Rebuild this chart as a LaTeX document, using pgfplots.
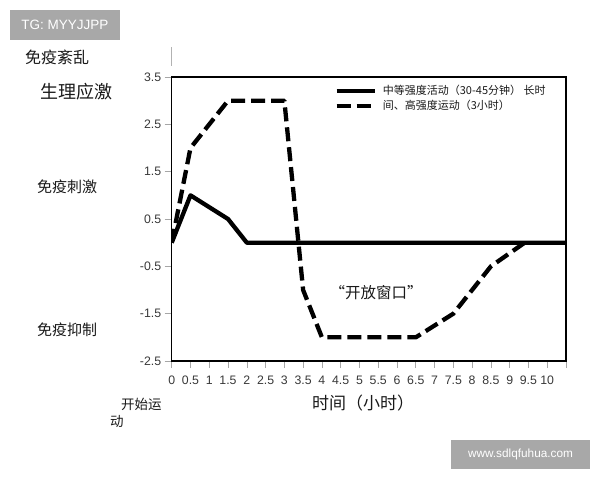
\documentclass[border=0pt]{standalone}
\usepackage{fontspec}
\usepackage{pgfplots}
\pgfplotsset{compat=1.18}
\setmainfont{Noto Sans CJK SC}
\newfontfamily\arial{Liberation Sans}
\definecolor{wmgray}{RGB}{168,168,168}
\definecolor{txt}{RGB}{25,25,25}
\newcommand\fs[1]{\fontsize{#1}{#1}\selectfont}

\begin{document}
\begin{tikzpicture}
\path[use as bounding box] (0,0) rectangle (600pt,-480pt);
\begin{axis}[
    at={(171.7pt,-361pt)}, anchor=south west,
    width=394.3pt, height=284pt, scale only axis,
    xmin=0, xmax=10.5, ymin=-2.5, ymax=3.5,
    axis line style={line width=1.4pt, black},
    xtick={0,0.5,1,1.5,2,2.5,3,3.5,4,4.5,5,5.5,6,6.5,7,7.5,8,8.5,9,9.5,10,10.5},
    xticklabels={0,0.5,1,1.5,2,2.5,3,3.5,4,4.5,5,5.5,6,6.5,7,7.5,8,8.5,9,9.5,10,{}},
    ytick={-2.5,-1.5,-0.5,0.5,1.5,2.5,3.5},
    yticklabels={-2.5,-1.5,-0.5,0.5,1.5,2.5,3.5},
    tick align=outside, xtick pos=bottom, ytick pos=left,
    major tick length=7pt,
    tick style={gray!70, line width=0.6pt},
    ticklabel style={font=\arial\fs{12.3}, text=black!78},
    xticklabel style={yshift=-4pt},
    legend cell align=left,
    legend style={at={(0.405,0.985)}, anchor=north west, draw=none, fill=none,
        font=\fs{11}, text=txt, row sep=0pt,
        /tikz/every odd column/.append style={column sep=4pt}},
    legend image code/.code={\draw[#1] (0pt,0pt) -- (38pt,0pt);},
]
\addplot[line width=4.3pt, black, line join=round] coordinates {
    (0,0) (0.5,1) (1.5,0.5) (2,0) (10.5,0)
};
\addlegendentry{中等强度活动（30-45分钟） 长时}
\addplot[line width=4.3pt, black, line join=round, dash pattern=on 14pt off 6pt] coordinates {
    (0,0) (0.5,2) (1.5,3) (3,3) (3.5,-1) (4,-2) (6.5,-2)
    (7.5,-1.5) (8,-1) (8.5,-0.5) (9.4,0)
};
\addlegendentry{间、高强度运动（3小时）}
\end{axis}

% labels round the axis
\draw[gray!60, line width=0.6pt] (171.7pt,-47pt) -- (171.7pt,-66pt);
\begin{scope}[every node/.style={inner sep=0pt, text=txt}]
\node[anchor=west, font=\fs{16}] at (25pt,-57pt) {免疫紊乱};
\node[anchor=west, font=\fs{18}] at (40pt,-92pt) {生理应激};
\node[anchor=west, font=\fs{15}] at (37pt,-187pt) {免疫刺激};
\node[anchor=west, font=\fs{15}] at (37pt,-330pt) {免疫抑制};
\node[anchor=west, font=\fs{13.5}] at (121pt,-404pt) {开始运};
\node[anchor=west, font=\fs{13.5}] at (110pt,-421pt) {动};
\node[font=\fs{17}] at (363pt,-403pt) {时间（小时）};
\node[font=\fs{15.5}] at (376pt,-293pt) {“开放窗口”};
\end{scope}

% watermarks
\fill[wmgray] (10pt,-10pt) rectangle (120pt,-40pt);
\node[text=white, font=\arial\fs{13.5}] at (65pt,-25pt) {TG: MYYJJPP};
\fill[wmgray] (451pt,-440pt) rectangle (590pt,-469pt);
\node[text=white, font=\arial\fs{11.8}] at (520.5pt,-454.5pt) {www.sdlqfuhua.com};
\end{tikzpicture}
\end{document}
